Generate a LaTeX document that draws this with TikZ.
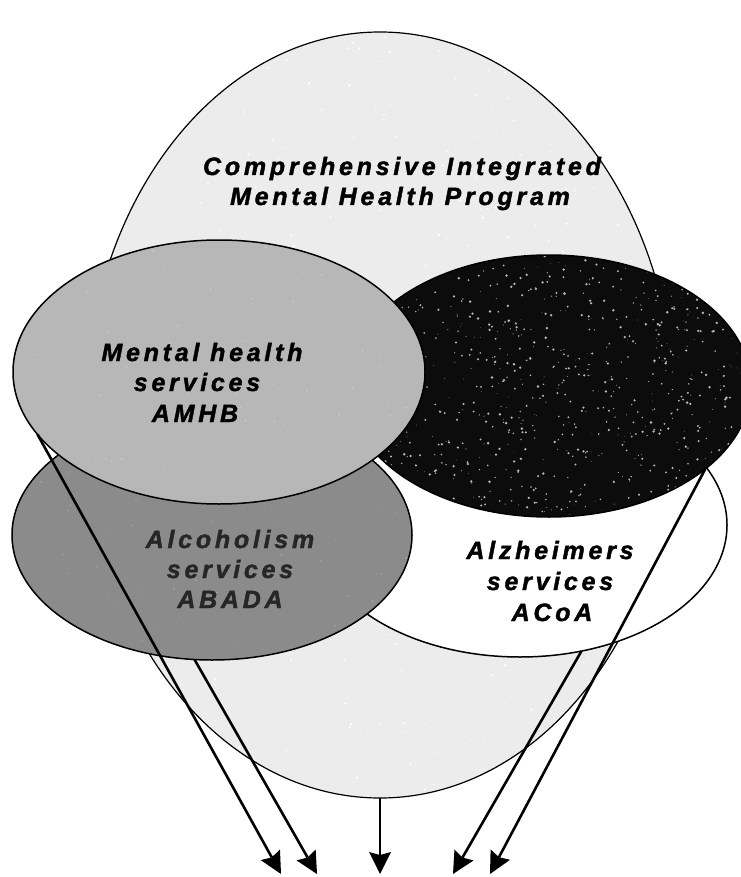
\documentclass[tikz,border=0pt]{standalone}
\usepackage{fontspec}
\setmainfont{Liberation Sans}
\newfontfamily\labfont[LetterSpace=15, FakeBold=1.6,
  UprightFont={Liberation Sans Bold Italic},
  BoldFont={Liberation Sans Bold Italic},
  ItalicFont={Liberation Sans Bold Italic},
  BoldItalicFont={Liberation Sans Bold Italic}]{Liberation Sans}
\usetikzlibrary{arrows.meta,shapes.geometric}
\definecolor{progfill}{HTML}{ECECEC}
\definecolor{mhfill}{HTML}{B7B7B7}
\definecolor{alcfill}{HTML}{8B8B8B}
\definecolor{darkfill}{HTML}{0C0C0C}
\tikzset{bigtip/.tip={Stealth[length=22pt,width=22pt,inset=3pt,line width=0pt]}}
\begin{document}
\begin{tikzpicture}[x=1pt,y=-1pt,
  blob/.style={ellipse, draw=black, line width=1.5pt, inner sep=0pt, outer sep=0pt},
  lab/.style={font=\labfont\fontsize{25}{30}\selectfont, anchor=base, inner sep=0pt},
  arr/.style={line width=2.6pt, -bigtip},
  speck/.style 2 args={path picture={\foreach \k in {1,...,#1}{\fill[#2] ([shift={(800*rnd-400,800*rnd-400)}]path picture bounding box.center) circle[radius=0.3pt+1pt*rnd];}}}]
\useasboundingbox (0,0) rectangle (740,877);
\fill[white] (0,0) rectangle (740,877);
\pgfmathsetseed{12}
% ellipses, back to front
\node[blob, fill=progfill, line width=1.2pt, minimum width=590pt, minimum height=766pt,
  speck={900}{white}] (prog) at (380,415) {};
\node[blob, fill=white, minimum width=414pt, minimum height=264pt] (alz) at (520,525) {};
\node[blob, fill=darkfill, minimum width=404pt, minimum height=262pt,
  path picture={\foreach \k in {1,...,900}{\fill[gray!55] ([shift={(404*rnd-202,262*rnd-131)}]path picture bounding box.center) circle[radius=0.3pt+1.1pt*rnd];}}] (dark) at (549,386) {};
\node[blob, fill=alcfill, minimum width=400pt, minimum height=250pt,
  speck={700}{gray!75}] (alc) at (212,535) {};
\node[blob, fill=mhfill, minimum width=412pt, minimum height=264pt,
  speck={700}{gray!45}] (mh) at (219,372) {};
% labels
\node[lab] (t1) at (402,175) {Comprehensive Integrated};
\node[lab] (t2) at (400,205) {Mental Health Program};
\node[lab] (m1) at (202,361) {Mental health};
\node[lab] (m2) at (197,391) {services};
\node[lab] (m3) at (195,422) {AMHB};
\node[lab, text=black!85] (a1) at (230,548) {Alcoholism};
\node[lab, text=black!85] (a2) at (230,578) {services};
\node[lab, text=black!85] (a3) at (230,608) {ABADA};
\node[lab] (z1) at (550,559) {Alzheimers};
\node[lab] (z2) at (550,590) {services};
\node[lab] (z3) at (552,621) {ACoA};
% arrow tips
\coordinate (e1) at (281,874);
\coordinate (e2) at (317,874);
\coordinate (e5) at (380,874);
\coordinate (e3) at (453,874);
\coordinate (e4) at (490,874);
\draw[arr] (mh.199.4) -- (e1);
\draw[arr] (alc.262.2) -- (e2);
\draw[arr] (prog.south) -- (e5);
\draw[arr] (alz.296.2) -- (e3);
\draw[arr] (dark.332.6) -- (e4);
\end{tikzpicture}
\end{document}
